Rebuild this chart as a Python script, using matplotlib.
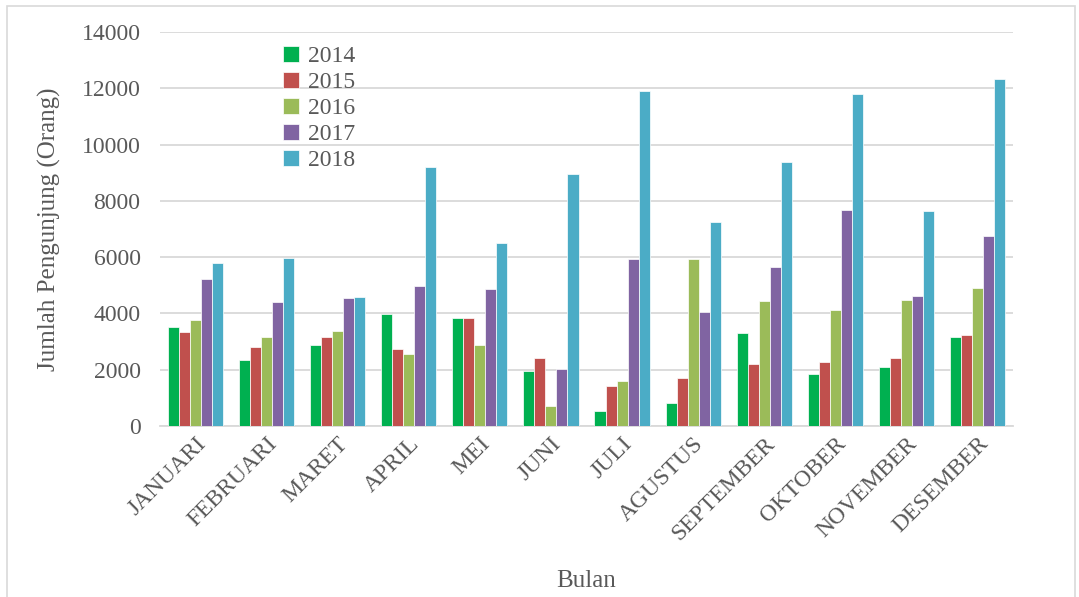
import numpy as np
import matplotlib.pyplot as plt
from matplotlib.patches import Rectangle

plt.rcParams['font.family'] = ['Liberation Serif', 'DejaVu Serif']

bulan = ['JANUARI', 'FEBRUARI', 'MARET', 'APRIL', 'MEI', 'JUNI', 'JULI',
         'AGUSTUS', 'SEPTEMBER', 'OKTOBER', 'NOVEMBER', 'DESEMBER']
tahun = ['2014', '2015', '2016', '2017', '2018']

v2014 = [3507, 2362, 2893, 3968, 3838, 1949, 531, 827, 3319, 1854, 2079, 3165]
v2015 = [3330, 2799, 3153, 2728, 3826, 2433, 1417, 1689, 2208, 2291, 2421, 3224]
v2016 = [3779, 3177, 3366, 2575, 2870, 697, 1583, 5929, 4429, 4110, 4464, 4901]
v2017 = [5208, 4405, 4535, 4972, 4877, 2043, 5917, 4063, 5657, 7688, 4618, 6755]
v2018 = [5787, 5952, 4570, 9200, 6507, 8952, 11904, 7263, 9377, 11798, 7641, 12341]

series = [v2014, v2015, v2016, v2017, v2018]
colors = ['#00b050', '#c0504d', '#9bbb59', '#8064a2', '#4bacc6']
text_col = '#595959'

fig = plt.figure(figsize=(10.79, 5.97), dpi=100)
ax = fig.add_axes([160 / 1079, 1 - 426 / 597, (1013 - 160) / 1079, (426 - 32) / 597])

x = np.arange(len(bulan))
w = 0.155
for i, (vals, c, lab) in enumerate(zip(series, colors, tahun)):
    ax.bar(x + (i - 2) * w, vals, width=w, color=c, edgecolor='white',
           linewidth=0.5, label=lab, zorder=3)

ax.set_xlim(-0.5, len(bulan) - 0.5)
ax.set_ylim(0, 14000)
ax.set_yticks(np.arange(0, 14001, 2000))
ax.yaxis.grid(True, color='#d9d9d9', linewidth=1.3, zorder=0)
for s in ['top', 'right', 'left']:
    ax.spines[s].set_visible(False)
ax.spines['bottom'].set_color('#d9d9d9')
ax.spines['bottom'].set_linewidth(1.3)
ax.tick_params(axis='both', length=0, labelsize=17, labelcolor=text_col)
ax.tick_params(axis='y', pad=14)
ax.set_xticks(x)
ax.set_xticklabels(bulan, rotation=45, ha='right', rotation_mode='anchor')
ax.tick_params(axis='x', pad=5)

ax.set_ylabel('Jumlah Pengunjung (Orang)', fontsize=18, color=text_col, labelpad=15)
fig.text(586 / 1079, 1 - 581 / 597, 'Bulan', fontsize=18, color=text_col,
         ha='center', va='center')

leg = ax.legend(loc='upper left', bbox_to_anchor=(0.128, 1.0), frameon=False,
                fontsize=17, handlelength=0.65, handleheight=0.65,
                handletextpad=0.4, labelspacing=0.2, borderaxespad=0.2)
for t in leg.get_texts():
    t.set_color(text_col)

fig.patches.append(Rectangle((7 / 1079, -0.01), 1068 / 1079, 1 - 6 / 597 + 0.01,
                             transform=fig.transFigure, fill=False,
                             edgecolor='#d9d9d9', linewidth=1.2))

fig.savefig('out.png', dpi=100)
